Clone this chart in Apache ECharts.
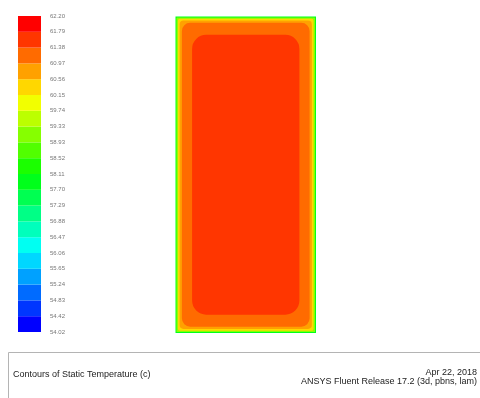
<!DOCTYPE html>
<html>
<head>
<meta charset="utf-8">
<script src="https://cdn.jsdelivr.net/npm/echarts@6/dist/echarts.min.js"></script>
<style>
  html, body { margin: 0; padding: 0; background: #fff; }
  #chart { width: 480px; height: 398px; }
</style>
</head>
<body>
<div id="chart"></div>
<script>
// Colour-bar tick labels, bottom to top (°C)
const tickLabels = ['54.02', '54.42', '54.83', '55.24', '55.65', '56.06', '56.47',
  '56.88', '57.29', '57.70', '58.11', '58.52', '58.93', '59.33', '59.74',
  '60.15', '60.56', '60.97', '61.38', '61.79', '62.20'];
const tMin = 54.02, tMax = 62.20;
const bandCount = tickLabels.length - 1;

// Domain size (mm)
const domainW = 44, domainH = 100;

// Temperature zones of the section, outermost first:
// inset from the walls (mm, x and y), corner radius (mm), temperature (°C)
const zoneInsetX = [0, 0.3, 0.75, 1.3, 2.0, 5.2];
const zoneInsetY = [0, 0.3, 0.75, 1.3, 2.0, 5.8];
const zoneRadius = [0, 0.2, 0.6, 1.2, 2.6, 4.4];
const zoneTemp   = [57.9, 59.1, 60.3, 60.8, 61.2, 61.6];

// Rainbow palette, hue running from blue (240°) down to red (0°)
function hsvColor(h) {
  const f = (n) => {
    const k = (n + h / 60) % 6;
    return Math.round(255 * (1 - Math.max(0, Math.min(k, 4 - k, 1))));
  };
  return 'rgb(' + f(5) + ',' + f(3) + ',' + f(1) + ')';
}
const bandColors = [];
for (let i = 0; i < bandCount; i++) bandColors.push(hsvColor(240 * (1 - i / (bandCount - 1))));

function bandOf(temp) {
  const i = Math.floor((temp - tMin) / (tMax - tMin) * bandCount);
  return Math.max(0, Math.min(bandCount - 1, i));
}

const chart = echarts.init(document.getElementById('chart'), null, { renderer: 'canvas' });

const zoneData = zoneTemp.map((t, i) => [zoneInsetX[i], zoneInsetY[i], zoneRadius[i], t]);
const barData = bandColors.map((c, i) => [i]);

chart.setOption({
  animation: false,
  backgroundColor: '#ffffff',
  grid: [
    { left: 18, top: 16, width: 23, height: 316 },
    { left: 175.5, top: 16.5, width: 140.5, height: 316.5 }
  ],
  xAxis: [
    { gridIndex: 0, type: 'value', min: 0, max: 1, show: false },
    { gridIndex: 1, type: 'value', min: 0, max: domainW, show: false }
  ],
  yAxis: [
    {
      gridIndex: 0, type: 'value', min: 0, max: bandCount, interval: 1,
      position: 'right',
      axisLine: { show: false }, axisTick: { show: false }, splitLine: { show: false },
      axisLabel: {
        margin: 9, fontSize: 6, color: '#777', fontFamily: 'Liberation Sans',
        formatter: v => tickLabels[Math.round(v)]
      }
    },
    { gridIndex: 1, type: 'value', min: 0, max: domainH, show: false }
  ],
  series: [
    {
      type: 'custom',
      xAxisIndex: 0, yAxisIndex: 0,
      data: barData,
      renderItem: function (params, api) {
        const i = api.value(0);
        const p0 = api.coord([0, i + 1]);
        const p1 = api.coord([1, i]);
        return {
          type: 'rect',
          shape: { x: p0[0], y: p0[1], width: p1[0] - p0[0], height: p1[1] - p0[1] },
          style: { fill: bandColors[i] }
        };
      }
    },
    {
      type: 'custom',
      xAxisIndex: 1, yAxisIndex: 1,
      data: zoneData,
      renderItem: function (params, api) {
        const ix = api.value(0), iy = api.value(1), r = api.value(2), t = api.value(3);
        const p0 = api.coord([ix, domainH - iy]);
        const p1 = api.coord([domainW - ix, iy]);
        const rp = api.size([r, 0])[0];
        return {
          type: 'rect',
          shape: { x: p0[0], y: p0[1], width: p1[0] - p0[0], height: p1[1] - p0[1], r: rp },
          style: { fill: bandColors[bandOf(t)] }
        };
      }
    }
  ],
  graphic: [
    {
      type: 'rect', silent: true,
      shape: { x: 8.5, y: 352.5, width: 480, height: 60 },
      style: { fill: null, stroke: '#b4b4b4', lineWidth: 1 }
    },
    {
      type: 'text', left: 13, top: 370,
      style: { text: 'Contours of Static Temperature (c)', fontSize: 9, fill: '#222', fontFamily: 'Liberation Sans' }
    },
    {
      type: 'text', right: 3, top: 368,
      style: { text: 'Apr 22, 2018', fontSize: 9, fill: '#222', fontFamily: 'Liberation Sans', align: 'right' }
    },
    {
      type: 'text', right: 3, top: 377,
      style: { text: 'ANSYS Fluent Release 17.2 (3d, pbns, lam)', fontSize: 9, fill: '#222', fontFamily: 'Liberation Sans', align: 'right' }
    }
  ]
});
</script>
</body>
</html>
